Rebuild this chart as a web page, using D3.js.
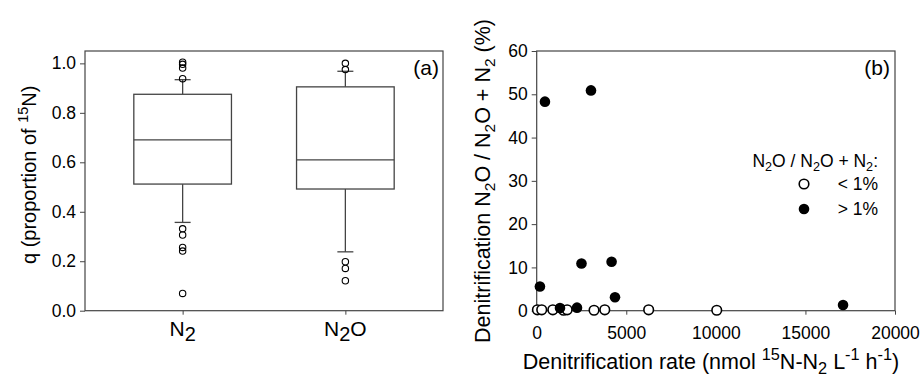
<!DOCTYPE html>
<html>
<head>
<meta charset="utf-8">
<script src="https://cdn.jsdelivr.net/npm/d3@7"></script>
<style>
  body { margin: 0; background: #fff; }
  svg { display: block; font-family: "Liberation Sans", Arial, sans-serif; }
  .tick text { font-size: 17.5px; fill: #000; }
  .tick line { stroke: #444; }
</style>
</head>
<body>
<svg width="923" height="377"></svg>
<script>
  // panel (a): box plot summaries of q
  const boxCats = ['N2', 'N2O'];
  const boxQ1 = [0.512, 0.492];
  const boxMedian = [0.691, 0.610];
  const boxQ3 = [0.875, 0.905];
  const boxWhiskLo = [0.357, 0.238];
  const boxWhiskHi = [0.934, 0.968];
  const outliersN2 = [1.005, 0.996, 0.981, 0.938, 0.331, 0.306, 0.256, 0.241, 0.070];
  const outliersN2O = [1.0, 0.975, 0.198, 0.171, 0.121];
  const yTicksA = [0, 0.2, 0.4, 0.6, 0.8, 1.0];

  // panel (b): denitrification rate vs N2O share
  const openRate = [40, 280, 900, 1500, 1700, 3200, 3800, 6250, 10050];
  const openPct = [0.2, 0.2, 0.2, 0.1, 0.2, 0.1, 0.2, 0.2, 0.1];
  const filledRate = [460, 3030, 180, 2500, 4180, 4370, 1300, 2250, 17100];
  const filledPct = [48.3, 50.9, 5.6, 10.9, 11.3, 3.1, 0.6, 0.7, 1.3];
  const xTicksB = [0, 5000, 10000, 15000, 20000];
  const yTicksB = [0, 10, 20, 30, 40, 50, 60];

  const svg = d3.select('svg');
  const frameColor = '#444';

  // text with sub/superscripts; each shifted piece is undone on the next one
  function richText(sel, parts, size, small = 0.72) {
    let pending = 0;
    parts.forEach(p => {
      const [t, kind] = Array.isArray(p) ? p : [p, null];
      const ts = sel.append('tspan').text(t);
      let shift = 0;
      if (kind === 'sub') { ts.attr('font-size', size * small); shift = size * 0.25; }
      else if (kind === 'sup') { ts.attr('font-size', size * small); shift = -size * 0.4; }
      else if (kind === 'bigsub') { ts.attr('font-size', size * 0.95); shift = size * 0.25; }
      const dy = pending + shift;
      if (dy !== 0) ts.attr('dy', dy);
      pending = -shift;
    });
    return sel;
  }

  // ---------- panel (a) ----------
  const a = { left: 85, right: 443, top: 51, bottom: 310.7 };

  const xA = d3.scalePoint().domain(boxCats).range([a.left, a.right]).padding(0.6);
  const yA = d3.scaleLinear().domain([0, 1.05]).range([a.bottom, a.top]);
  const boxW = xA.step() * 0.6;

  const gA = svg.append('g');

  gA.append('g')
      .attr('transform', `translate(${a.left},0)`)
      .call(d3.axisLeft(yA).tickValues(yTicksA).tickFormat(d3.format('.1f')).tickSize(5).tickPadding(4))
      .call(g => g.select('.domain').remove());

  gA.append('g')
      .attr('transform', `translate(0,${a.bottom})`)
      .call(d3.axisBottom(xA).tickSize(4).tickFormat(''))
      .call(g => g.select('.domain').remove());

  // category labels with subscripts
  const catParts = { 'N2': ['N', ['2', 'bigsub']], 'N2O': ['N', ['2', 'bigsub'], 'O'] };
  boxCats.forEach(c => {
    const t = gA.append('text')
        .attr('x', xA(c))
        .attr('y', 336)
        .attr('text-anchor', 'middle')
        .attr('font-size', 21);
    richText(t, catParts[c], 21);
  });

  const boxes = gA.selectAll('.box').data(boxCats).enter().append('g')
      .attr('class', 'box')
      .attr('stroke', '#444')
      .attr('stroke-width', 1.3)
      .attr('fill', 'none');

  boxes.append('line')
      .attr('x1', c => xA(c)).attr('x2', c => xA(c))
      .attr('y1', (c, i) => yA(boxQ3[i])).attr('y2', (c, i) => yA(boxWhiskHi[i]));
  boxes.append('line')
      .attr('x1', c => xA(c)).attr('x2', c => xA(c))
      .attr('y1', (c, i) => yA(boxQ1[i])).attr('y2', (c, i) => yA(boxWhiskLo[i]));
  boxes.append('line')
      .attr('x1', c => xA(c) - 8).attr('x2', c => xA(c) + 8)
      .attr('y1', (c, i) => yA(boxWhiskHi[i])).attr('y2', (c, i) => yA(boxWhiskHi[i]));
  boxes.append('line')
      .attr('x1', c => xA(c) - 8).attr('x2', c => xA(c) + 8)
      .attr('y1', (c, i) => yA(boxWhiskLo[i])).attr('y2', (c, i) => yA(boxWhiskLo[i]));
  boxes.append('rect')
      .attr('x', c => xA(c) - boxW / 2)
      .attr('width', boxW)
      .attr('y', (c, i) => yA(boxQ3[i]))
      .attr('height', (c, i) => yA(boxQ1[i]) - yA(boxQ3[i]))
      .attr('fill', '#fff');
  boxes.append('line')
      .attr('x1', c => xA(c) - boxW / 2).attr('x2', c => xA(c) + boxW / 2)
      .attr('y1', (c, i) => yA(boxMedian[i])).attr('y2', (c, i) => yA(boxMedian[i]));

  const outliers = [
    ...outliersN2.map(v => ({ c: 'N2', v })),
    ...outliersN2O.map(v => ({ c: 'N2O', v }))
  ];
  gA.selectAll('.out').data(outliers).enter().append('circle')
      .attr('class', 'out')
      .attr('cx', d => xA(d.c))
      .attr('cy', d => yA(d.v))
      .attr('r', 3.2)
      .attr('fill', 'none')
      .attr('stroke', '#000')
      .attr('stroke-width', 1.1);

  gA.append('rect')
      .attr('x', a.left).attr('y', a.top)
      .attr('width', a.right - a.left).attr('height', a.bottom - a.top)
      .attr('fill', 'none').attr('stroke', frameColor).attr('stroke-width', 1.2);

  gA.append('text')
      .attr('x', a.right - 4).attr('y', 75)
      .attr('text-anchor', 'end')
      .attr('font-size', 21)
      .text('(a)');

  const yLabA = gA.append('text')
      .attr('transform', `translate(36,${(a.top + a.bottom) / 2 - 6}) rotate(-90)`)
      .attr('text-anchor', 'middle')
      .attr('font-size', 20);
  richText(yLabA, ['q (proportion of ', ['15', 'sup'], 'N)'], 20);

  // ---------- panel (b) ----------
  const b = { left: 536.7, right: 895, top: 51, bottom: 310.7 };

  const xB = d3.scaleLinear().domain([0, 20000]).range([b.left, b.right]);
  const yB = d3.scaleLinear().domain([0, 60]).range([b.bottom, b.top]);

  const gB = svg.append('g');

  gB.append('g')
      .attr('transform', `translate(${b.left},0)`)
      .call(d3.axisLeft(yB).tickValues(yTicksB).tickSize(5).tickPadding(4))
      .call(g => g.select('.domain').remove());

  gB.append('g')
      .attr('transform', `translate(0,${b.bottom})`)
      .call(d3.axisBottom(xB).tickValues(xTicksB).tickFormat(d3.format('d')).tickSize(4).tickPadding(12))
      .call(g => g.select('.domain').remove());

  gB.append('rect')
      .attr('x', b.left).attr('y', b.top)
      .attr('width', b.right - b.left).attr('height', b.bottom - b.top)
      .attr('fill', 'none').attr('stroke', frameColor).attr('stroke-width', 1.2);

  gB.selectAll('.open').data(openRate).enter().append('circle')
      .attr('class', 'open')
      .attr('cx', d => xB(d))
      .attr('cy', (d, i) => yB(openPct[i]))
      .attr('r', 4.8)
      .attr('fill', '#fff')
      .attr('stroke', '#000')
      .attr('stroke-width', 1.6);

  gB.selectAll('.filled').data(filledRate).enter().append('circle')
      .attr('class', 'filled')
      .attr('cx', d => xB(d))
      .attr('cy', (d, i) => yB(filledPct[i]))
      .attr('r', 5.3)
      .attr('fill', '#000');

  gB.append('text')
      .attr('x', b.right - 5).attr('y', 75)
      .attr('text-anchor', 'end')
      .attr('font-size', 21)
      .text('(b)');

  // legend
  const legTitle = gB.append('text')
      .attr('x', 878).attr('y', 167)
      .attr('text-anchor', 'end')
      .attr('font-size', 17.5);
  richText(legTitle, ['N', ['2', 'sub'], 'O / N', ['2', 'sub'], 'O + N', ['2', 'sub'], ':'], 17.5);

  const legItems = [
    { label: '< 1%', fill: '#fff', y: 184 },
    { label: '> 1%', fill: '#000', y: 209 }
  ];
  legItems.forEach(d => {
    gB.append('circle')
        .attr('cx', 804).attr('cy', d.y).attr('r', d.fill === '#000' ? 5.3 : 4.8)
        .attr('fill', d.fill)
        .attr('stroke', '#000').attr('stroke-width', d.fill === '#000' ? 0 : 1.6);
    gB.append('text')
        .attr('x', 878).attr('y', d.y + 6)
        .attr('text-anchor', 'end')
        .attr('font-size', 17.5)
        .text(d.label);
  });

  const xLabB = gB.append('text')
      .attr('x', 711).attr('y', 369)
      .attr('text-anchor', 'middle')
      .attr('font-size', 21.5);
  richText(xLabB, ['Denitrification rate (nmol ', ['15', 'sup'], 'N-N', ['2', 'sub'], ' L', ['-1', 'sup'], ' h', ['-1', 'sup'], ')'], 21.5, 0.76);

  const yLabB = gB.append('text')
      .attr('transform', `translate(490,181) rotate(-90)`)
      .attr('text-anchor', 'middle')
      .attr('font-size', 21.5);
  richText(yLabB, ['Denitrification N', ['2', 'sub'], 'O / N', ['2', 'sub'], 'O + N', ['2', 'sub'], ' (%)'], 21.5);
</script>
</body>
</html>
